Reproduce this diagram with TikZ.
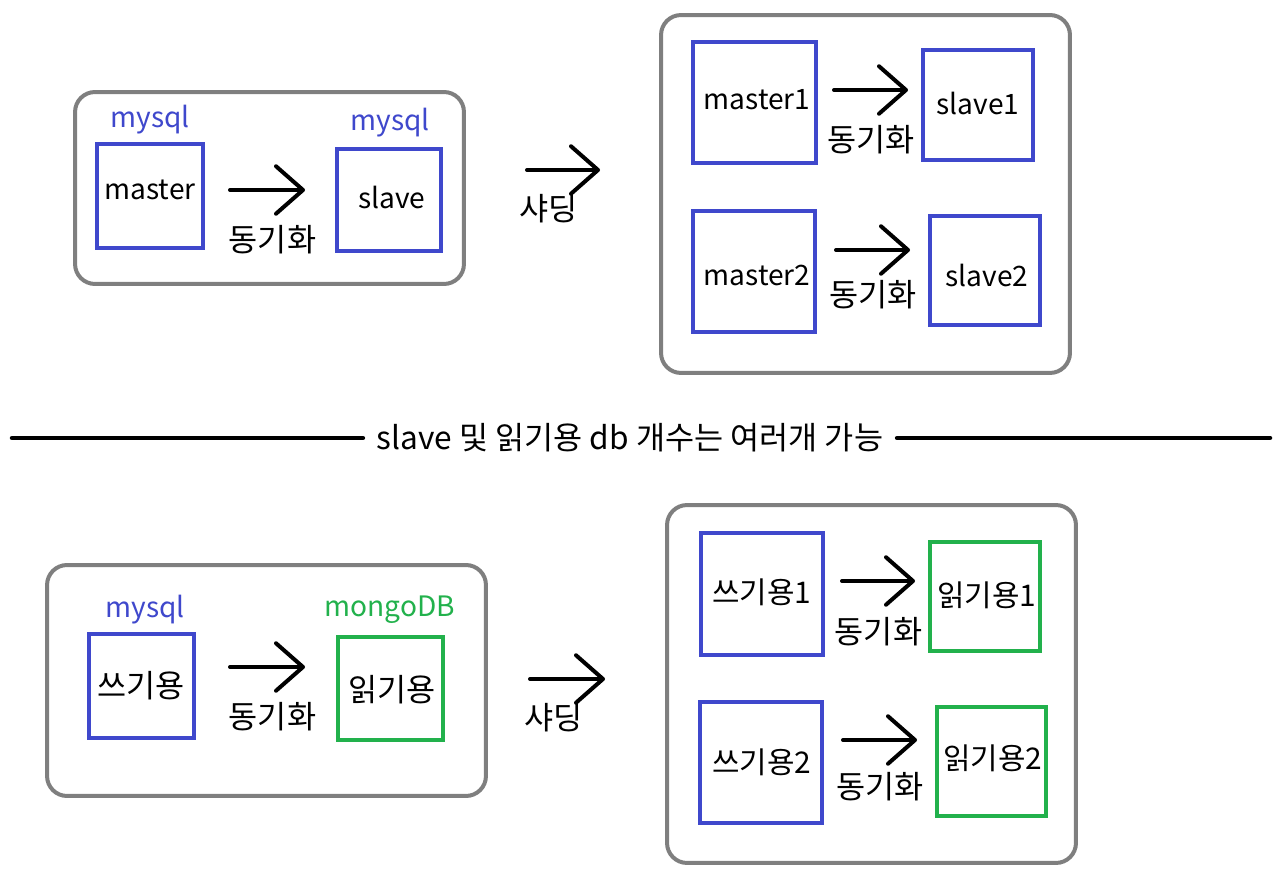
\documentclass[tikz,border=0pt]{standalone}
\usepackage{fontspec}
\setmainfont{Noto Sans CJK KR}
\usepackage{tikz}
\usetikzlibrary{arrows.meta,positioning}

\definecolor{dbblue}{RGB}{63,72,204}
\definecolor{dbgreen}{RGB}{34,177,76}
\definecolor{boxgray}{RGB}{127,127,127}

\begin{document}
\begin{tikzpicture}[
        x=0.02cm, y=-0.02cm,
        every node/.style={font=\fontsize{16pt}{19pt}\selectfont, inner sep=0pt, outer sep=0pt},
        krtext/.style={font=\fontsize{18pt}{21pt}\selectfont},
        krnum/.style={font=\fontsize{17pt}{20pt}\selectfont},
        container/.style={draw=boxgray, line width=0.08cm, rounded corners=0.4cm},
        writedb/.style={draw=dbblue, line width=0.08cm},
        readdb/.style={draw=dbgreen, line width=0.08cm},
        dblabel/.style={text=dbblue},
        syncarrow/.style={-{Straight Barb[round, length=0.54cm, width=0.95cm]}, line width=0.08cm, line cap=round},
        divline/.style={line width=0.09cm, line cap=round}
    ]
    \useasboundingbox (0,0) rectangle (1288,874);

    % Top left: master / slave
    \node[container, minimum width=7.78cm, minimum height=3.84cm] (pair) at (269.5,188) {};
    \node[writedb, minimum width=2.12cm, minimum height=2.08cm] (master) at (150,196) {};
    \node at (150,190) {master};
    \node[dblabel] at (150,120) {mysql};
    \node[writedb, minimum width=2.08cm, minimum height=2.04cm] (slave) at (389,200) {};
    \node at (392,197) {slave};
    \node[dblabel] at (390,123) {mysql};
    \coordinate (syncA) at (230,190);
    \coordinate (syncB) at (305,190);
    \draw[syncarrow] (syncA) -- (syncB) node[krtext, midway, xshift=0.1cm, yshift=-1cm] {동기화};

    % Sharding arrow (top)
    \coordinate (shardA) at (527,170);
    \coordinate (shardB) at (600,170);
    \draw[syncarrow] (shardA) -- (shardB) node[krtext, midway, xshift=-0.3cm, yshift=-0.78cm] {샤딩};

    % Top right: sharded pairs
    \node[container, minimum width=8.18cm, minimum height=7.16cm] (shard) at (865.5,194) {};
    \node[writedb, minimum width=2.46cm, minimum height=2.42cm] (master1) at (754.5,102.5) {};
    \node at (757,100) {master1};
    \node[writedb, minimum width=2.2cm, minimum height=2.2cm] (slave1) at (978,105) {};
    \node at (978,103) {slave1};
    \node[writedb, minimum width=2.44cm, minimum height=2.42cm] (master2) at (754,271.5) {};
    \node at (757,275) {master2};
    \node[writedb, minimum width=2.2cm, minimum height=2.18cm] (slave2) at (985,270.5) {};
    \node at (987,275) {slave2};
    \coordinate (syncC) at (834,90);
    \coordinate (syncD) at (908,90);
    \draw[syncarrow] (syncC) -- (syncD) node[krtext, midway, yshift=-1cm] {동기화};
    \coordinate (syncE) at (836,250);
    \coordinate (syncF) at (910,250);
    \draw[syncarrow] (syncE) -- (syncF) node[krtext, midway, yshift=-0.9cm] {동기화};

    % Divider
    \node[krtext, inner xsep=0.28cm] (note) at (630,438) {slave 및 읽기용 db 개수는 여러개 가능};
    \coordinate (lineL) at (12,438);
    \coordinate (lineR) at (1270,438);
    \draw[divline] (lineL) -- (note.west);
    \draw[divline] (note.east) -- (lineR);

    % Bottom left: write / read
    \node[container, minimum width=8.78cm, minimum height=4.62cm] (cqrs) at (266.5,680.5) {};
    \node[writedb, minimum width=2.1cm, minimum height=2.08cm] (write) at (141.5,686) {};
    \node[krtext] at (141,686) {쓰기용};
    \node[dblabel] at (145,610) {mysql};
    \node[readdb, minimum width=2.1cm, minimum height=2.06cm] (read) at (390.5,688.5) {};
    \node[krtext] at (392,690) {읽기용};
    \node[text=dbgreen] at (390,610) {mongoDB};
    \coordinate (syncG) at (230,667);
    \coordinate (syncH) at (305,667);
    \draw[syncarrow] (syncG) -- (syncH) node[krtext, midway, xshift=0.1cm, yshift=-1cm] {동기화};

    % Sharding arrow (bottom)
    \coordinate (shardC) at (530,679);
    \coordinate (shardD) at (605,679);
    \draw[syncarrow] (shardC) -- (shardD) node[krtext, midway, xshift=-0.28cm, yshift=-0.78cm] {샤딩};

    % Bottom right: sharded write / read
    \node[container, minimum width=8.18cm, minimum height=7.16cm] (cqrsshard) at (871.5,684) {};
    \node[writedb, minimum width=2.44cm, minimum height=2.44cm] (write1) at (762,594) {};
    \node[krnum] at (762,592) {쓰기용1};
    \node[readdb, minimum width=2.2cm, minimum height=2.18cm] (read1) at (985,596.5) {};
    \node[krnum] at (987,595) {읽기용1};
    \node[writedb, minimum width=2.44cm, minimum height=2.42cm] (write2) at (761,762.5) {};
    \node[krnum] at (762,762) {쓰기용2};
    \node[readdb, minimum width=2.18cm, minimum height=2.18cm] (read2) at (991.5,761.5) {};
    \node[krnum] at (993,758) {읽기용2};
    \coordinate (syncI) at (842,581);
    \coordinate (syncJ) at (915,581);
    \draw[syncarrow] (syncI) -- (syncJ) node[krtext, midway, yshift=-1.02cm] {동기화};
    \coordinate (syncK) at (843,740);
    \coordinate (syncL) at (917,740);
    \draw[syncarrow] (syncK) -- (syncL) node[krtext, midway, yshift=-0.94cm] {동기화};
\end{tikzpicture}
\end{document}
